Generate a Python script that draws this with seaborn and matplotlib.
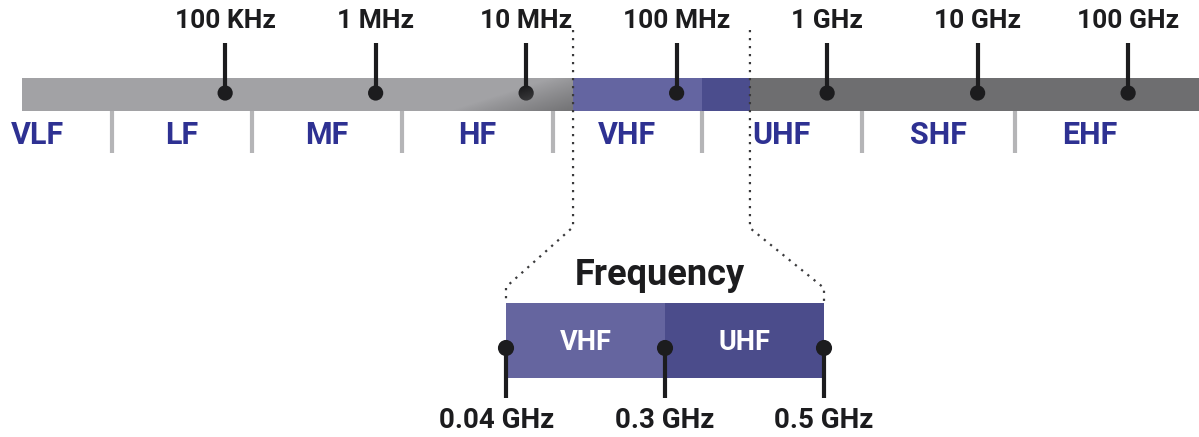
import numpy as np
import matplotlib
matplotlib.use("Agg")
import matplotlib.pyplot as plt
import seaborn as sns

# ---------------- data ----------------
tick_labels = ["100 KHz", "1 MHz", "10 MHz", "100 MHz", "1 GHz", "10 GHz", "100 GHz"]
tick_freqs = [1e5, 1e6, 1e7, 1e8, 1e9, 1e10, 1e11]          # Hz
band_names = ["VLF", "LF", "MF", "HF", "VHF", "UHF", "SHF", "EHF"]
band_edges = [1.8e3, 1.77e4, 1.5e5, 1.5e6, 1.5e7, 1.47e8, 1.7e9, 1.77e10, 1.76e11]  # Hz (as drawn)
segment_names = ["lower", "VHF", "UHF", "upper"]
segment_edges = [4.5e3, 2.05e7, 1.47e8, 3.07e8, 1e12]       # Hz (as drawn)
zoom_bands = ["VHF", "UHF"]
zoom_tick_labels = ["0.04 GHz", "0.3 GHz", "0.5 GHz"]
zoom_title = "Frequency"

# ---------------- style ----------------
sns.set_theme(style="white")
plt.rcParams["font.family"] = ["Roboto", "DejaVu Sans"]
plt.rcParams["font.weight"] = "bold"

W, H = 1199, 437
DARK = "#1c1c1e"
NAVY = "#2e3192"
seg_colors = ["#a2a2a5", "#6465a1", "#4b4d8d", "#6e6e70"]
zoom_colors = ["#65659f", "#4b4c8b"]

fig = plt.figure(figsize=(W / 100, H / 100), dpi=100)
fig.patch.set_facecolor("white")

# top axis: log frequency
ax = fig.add_axes([0, 0, 1, 1])
ax.set_xscale("log")
XLIM = (10 ** 3.504, 10 ** 11.471)
ax.set_xlim(*XLIM)
ax.set_ylim(H, 0)
ax.axis("off")

for i, name in enumerate(segment_names):
    ax.barh(y=94.5, width=segment_edges[i + 1] - segment_edges[i], left=segment_edges[i],
            height=33, color=seg_colors[i], zorder=1, linewidth=0)

# band separators and names
ax.vlines(band_edges[1:-1], 111, 153, color="#b5b5b7", lw=3, zorder=1)
for i, name in enumerate(band_names):
    xc = np.sqrt(band_edges[i] * band_edges[i + 1])
    ax.text(xc, 135, name, ha="center", va="center", fontsize=22,
            fontweight="bold", color=NAVY, zorder=2)

# ticks, dots and labels
ax.vlines(tick_freqs, 43, 93, color=DARK, lw=3, zorder=3)
sns.scatterplot(x=tick_freqs, y=[93] * len(tick_freqs), ax=ax, s=120, color=DARK,
                edgecolor="none", zorder=4, legend=False)
for f, lab in zip(tick_freqs, tick_labels):
    ax.text(f, 21, lab, ha="center", va="center", fontsize=19, fontweight="bold",
            color=DARK, zorder=4)
ax.set_xlim(*XLIM)
ax.set_ylim(H, 0)

# zoom axis: categorical index for VHF/UHF detail
az = fig.add_axes([0, 0, 1, 1])
ZLIM = (-506 / 159, (W - 506) / 159)
az.set_xlim(*ZLIM)
az.set_ylim(H, 0)
az.axis("off")

az.barh(y=340.5, width=1, left=np.arange(len(zoom_bands)), height=75,
        color=zoom_colors, linewidth=0, zorder=1)
for i, name in enumerate(zoom_bands):
    az.text(i + 0.5, 343, name, ha="center", va="center", fontsize=19.5,
            fontweight="bold", color="white", zorder=2)
zx = np.arange(len(zoom_tick_labels))
az.vlines(zx, 348, 398, color=DARK, lw=3, zorder=3)
sns.scatterplot(x=zx, y=[348] * len(zx), ax=az, s=135, color=DARK,
                edgecolor="none", zorder=4, legend=False)
for i, lab in enumerate(zoom_tick_labels):
    az.text(i - 0.06 * (i == 0), 420, lab, ha="center", va="center", fontsize=20,
            fontweight="bold", color=DARK)
az.text(0.97, 275, zoom_title, ha="center", va="center", fontsize=26,
        fontweight="bold", color=DARK)
az.set_xlim(*ZLIM)
az.set_ylim(H, 0)


def top_to_zoom(f):
    disp = ax.transData.transform((f, 0))
    return az.transData.inverted().transform(disp)[0]


xl = top_to_zoom(segment_edges[1])
xr = top_to_zoom(segment_edges[3])

# gradient shading at end of the light segment
px_per_unit = 159
gx1 = xl
gx0 = xl - 130 / px_per_unit
nx, ny = 200, 40
u = np.linspace(0, 1, nx)[None, :]
v = np.linspace(0, 1, ny)[:, None]
alpha = np.clip(0.9 * u + 0.7 * v - 0.75, 0, 0.8) ** 0.9
img = np.zeros((ny, nx, 4))
img[..., :3] = np.array([0.42, 0.42, 0.43])
img[..., 3] = alpha
az.imshow(img, extent=(gx0, gx1, 111, 78), aspect="auto", zorder=1.5,
          interpolation="bilinear")
az.set_xlim(*ZLIM)
az.set_ylim(H, 0)

dot_style = dict(color="#3a3a3c", lw=1.6, ls=(0, (1, 2.6)), zorder=5)
az.plot([xl, xl, 0, 0], [30, 227, 287, 303], **dot_style)
az.plot([xr, xr, 2, 2], [30, 228, 288, 303], **dot_style)

fig.savefig("out.png", dpi=100, facecolor="white")
